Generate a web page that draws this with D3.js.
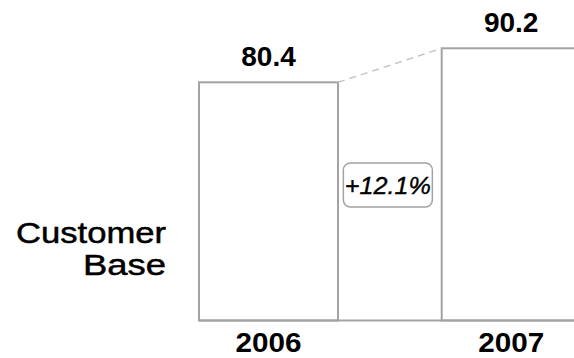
<!DOCTYPE html>
<html><head><meta charset="utf-8">
<script src="https://cdn.jsdelivr.net/npm/d3@7"></script>
<style>body{margin:0;background:#fff;}svg{display:block;}</style>
</head><body>
<script>
const categories = ["2006", "2007"];
const values = [80.4, 90.2];
const changeLabel = "+12.1%";
const rowLabel = ["Customer", "Base"];

const W = 574, H = 358;
const svg = d3.select("body").append("svg").attr("width", W).attr("height", H);

const x = d3.scaleBand().domain(categories).range([199, 580.7]).paddingInner(0.4273).paddingOuter(0);
const y = d3.scaleLinear().domain([11.8, 90.2]).range([320.5, 48.3]);
const base = y.range()[0];
const grey = "#a3a3a3";
const font = "'Liberation Sans', Arial, sans-serif";

// bars
svg.selectAll("rect.bar").data(categories).join("rect")
  .attr("class", "bar")
  .attr("x", d => x(d))
  .attr("y", (d, i) => y(values[i]))
  .attr("width", x.bandwidth())
  .attr("height", (d, i) => base - y(values[i]))
  .attr("fill", "none").attr("stroke", grey).attr("stroke-width", 2);

// baseline
svg.append("line").attr("x1", x(categories[0])).attr("x2", W + 10)
  .attr("y1", base).attr("y2", base).attr("stroke", grey).attr("stroke-width", 2);

// dashed connector
svg.append("line")
  .attr("x1", x(categories[0]) + x.bandwidth()).attr("y1", y(values[0]))
  .attr("x2", x(categories[1])).attr("y2", y(values[1]))
  .attr("stroke", "#c4c4c4").attr("stroke-width", 1.5).attr("stroke-dasharray", "7,5");

// value labels
svg.selectAll("text.val").data(categories).join("text")
  .attr("class", "val")
  .attr("x", d => x(d) + x.bandwidth() / 2)
  .attr("y", (d, i) => y(values[i]) - 16)
  .attr("text-anchor", "middle")
  .attr("font-family", font).attr("font-weight", "bold").attr("font-size", 28)
  .attr("fill", "#000")
  .text((d, i) => values[i].toFixed(1));

// category labels
svg.selectAll("text.cat").data(categories).join("text")
  .attr("class", "cat")
  .attr("x", d => x(d) + x.bandwidth() / 2)
  .attr("y", 352)
  .attr("text-anchor", "middle")
  .attr("font-family", font).attr("font-weight", "bold").attr("font-size", 27)
  .attr("textLength", 66).attr("lengthAdjust", "spacingAndGlyphs")
  .attr("fill", "#000")
  .text(d => d);

// change badge
const gapMid = (x(categories[0]) + x.bandwidth() + x(categories[1])) / 2 - 2;
const bw = 89, bh = 44, by = 163;
svg.append("rect").attr("x", gapMid - bw / 2).attr("y", by).attr("width", bw).attr("height", bh)
  .attr("rx", 7).attr("fill", "#fff").attr("stroke", grey).attr("stroke-width", 1.5);
svg.append("text").attr("x", gapMid).attr("y", by + bh / 2 + 8.5)
  .attr("text-anchor", "middle")
  .attr("font-family", font).attr("font-style", "italic").attr("font-size", 24)
  .attr("stroke", "#000").attr("stroke-width", 0.4)
  .attr("textLength", 86).attr("lengthAdjust", "spacingAndGlyphs")
  .attr("fill", "#000").text(changeLabel);

// row label
svg.selectAll("text.row").data(rowLabel).join("text")
  .attr("class", "row")
  .attr("x", 166).attr("y", (d, i) => 243 + i * 32)
  .attr("text-anchor", "end")
  .attr("font-family", font).attr("font-size", 30)
  .attr("stroke", "#000").attr("stroke-width", 0.5)
  .attr("textLength", (d, i) => i === 0 ? 150 : 83).attr("lengthAdjust", "spacingAndGlyphs")
  .attr("fill", "#000").text(d => d);
</script>
</body></html>
